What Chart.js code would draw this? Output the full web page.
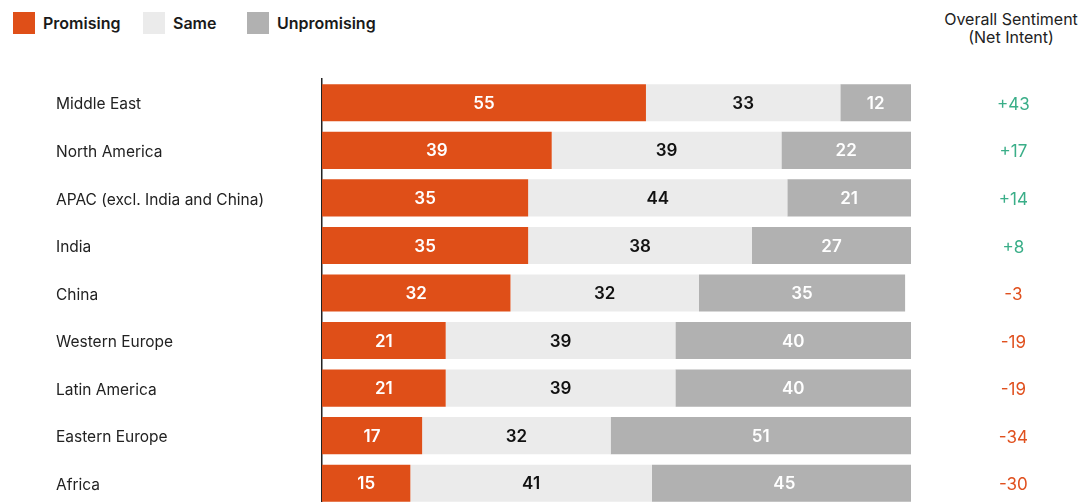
<!DOCTYPE html>
<html>
<head>
<meta charset="utf-8">
<script src="https://cdn.jsdelivr.net/npm/chart.js@4.4.1/dist/chart.umd.min.js"></script>
<style>
  html, body { margin: 0; padding: 0; background: #fff; overflow: hidden; }
  body { width: 1081px; height: 502px; position: relative; font-family: Inter, "Noto Sans", sans-serif; color: #222; }
  #chart { position: absolute; left: 0; top: 0; }
  .item { position: absolute; top: 12px; height: 22px; line-height: 22px; font-size: 16px; font-weight: 600; color: #1a1a1a; }
  .item span { display: inline-block; width: 22px; height: 22px; vertical-align: top; margin-right: 8px; }
  #header { position: absolute; left: 921px; top: 10px; width: 180px; text-align: center; font-size: 16px; line-height: 18px; color: #222; }
</style>
</head>
<body>
<div class="item" style="left:13px"><span style="background:#df4f18"></span>Promising</div>
<div class="item" style="left:143px"><span style="background:#ebebeb"></span>Same</div>
<div class="item" style="left:247px"><span style="background:#b1b1b1"></span>Unpromising</div>
<div id="header">Overall Sentiment<br>(Net Intent)</div>
<canvas id="chart" width="1081" height="507"></canvas>
<script>
// regions, top to bottom
const regions = [
  "Middle East",
  "North America",
  "APAC (excl. India and China)",
  "India",
  "China",
  "Western Europe",
  "Latin America",
  "Eastern Europe",
  "Africa",
];
const promising = [55, 39, 35, 35, 32, 21, 21, 17, 15];
const same = [33, 39, 44, 38, 32, 39, 39, 32, 41];
const unpromising = [12, 22, 21, 27, 35, 40, 40, 51, 45];
const netIntent = [43, 17, 14, 8, -3, -19, -19, -34, -30];

const barColors = ["#df4f18", "#ebebeb", "#b1b1b1"];
const labelColors = ["#ffffff", "#111111", "#ffffff"];

// values written in the middle of each segment
const barLabels = {
  id: "barLabels",
  afterDatasetsDraw(chart) {
    const ctx = chart.ctx;
    ctx.save();
    ctx.font = "600 17px Inter";
    ctx.textAlign = "center";
    ctx.textBaseline = "middle";
    chart.data.datasets.forEach((ds, i) => {
      const meta = chart.getDatasetMeta(i);
      meta.data.forEach((bar, j) => {
        ctx.fillStyle = labelColors[i];
        ctx.fillText(ds.data[j], (bar.x + bar.base) / 2, bar.y + 1);
      });
    });
    ctx.restore();
  },
};

function makeSet(label, data, i) {
  return {
    label: label,
    data: data,
    backgroundColor: barColors[i],
    borderWidth: 0,
    barPercentage: 0.78,
    categoryPercentage: 1,
  };
}

// fixed width, and no extra top/bottom room for the labels
function fixWidth(w) {
  return (scale) => {
    scale.width = w;
    scale.paddingTop = 0;
    scale.paddingBottom = 0;
  };
}

new Chart(document.getElementById("chart"), {
  type: "bar",
  data: {
    labels: regions,
    datasets: [
      makeSet("Promising", promising, 0),
      makeSet("Same", same, 1),
      makeSet("Unpromising", unpromising, 2),
    ],
  },
  options: {
    indexAxis: "y",
    responsive: false,
    animation: false,
    layout: {
      padding: { left: 56, top: 79, right: 0, bottom: 0 },
    },
    scales: {
      x: {
        display: false,
        stacked: true,
        min: 0,
        max: 100,
      },
      y: {
        stacked: true,
        afterFit: fixWidth(266),
        grid: { display: false, drawTicks: false },
        border: { display: true, color: "#222222", width: 1.5 },
        ticks: {
          crossAlign: "far",
          labelOffset: 2,
          color: "#222222",
          font: { family: "Inter", size: 15.5 },
        },
      },
      y2: {
        type: "category",
        axis: "y",
        position: "right",
        offset: true,
        labels: netIntent.map((v) => (v > 0 ? "+" : "") + v),
        afterFit: fixWidth(170),
        grid: { display: false, drawTicks: false },
        border: { display: false },
        ticks: {
          crossAlign: "center",
          padding: 86,
          labelOffset: 2,
          font: { family: "Inter", size: 17 },
          color: (c) => (netIntent[c.index] > 0 ? "#3aae88" : "#e0501e"),
        },
      },
    },
    plugins: {
      legend: { display: false },
      tooltip: { enabled: false },
    },
  },
  plugins: [barLabels],
});
</script>
</body>
</html>
